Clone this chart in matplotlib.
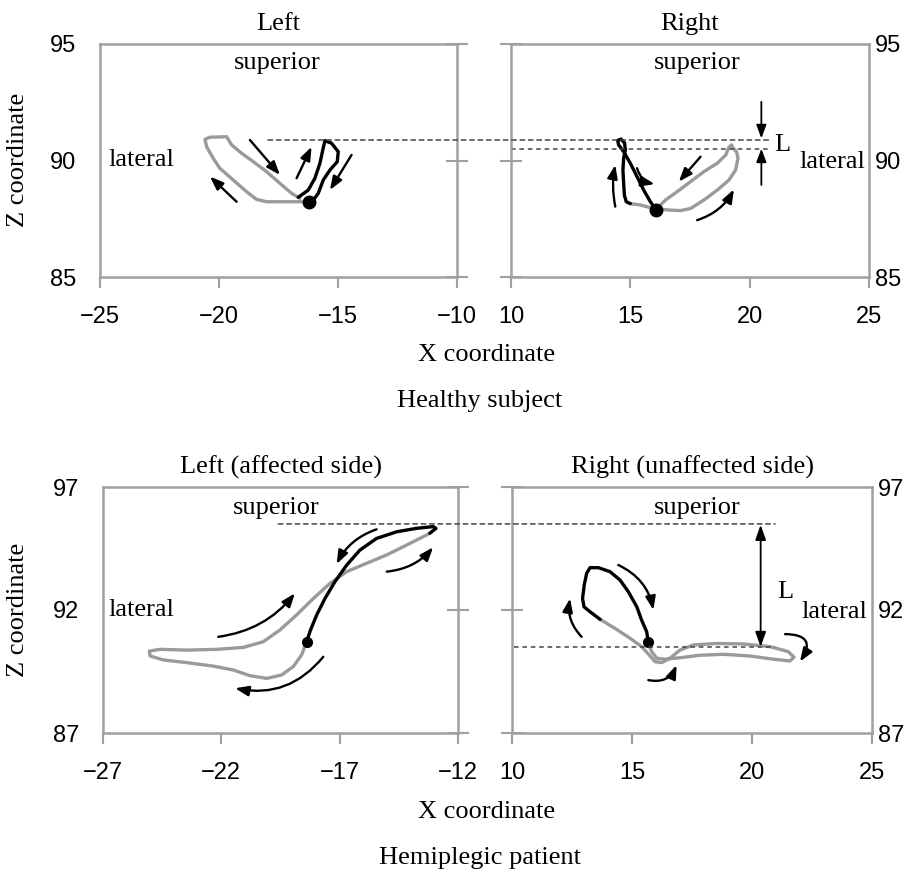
import numpy as np
import matplotlib
matplotlib.use("Agg")
import matplotlib.pyplot as plt
from matplotlib.patches import ConnectionPatch

SERIF = ["Liberation Serif", "DejaVu Serif"]
NARROW = ["Liberation Sans Narrow", "Liberation Sans", "DejaVu Sans"]
GRAY = "#9a9a9a"
SPINE = "#a0a0a0"
FS = 19
TS = 17

# ---- healthy subject, left side ----
hl_gray_x = [-16.53, -18.00, -18.42, -18.84, -19.40, -19.96, -20.24, -20.52, -20.59, -20.38,
             -19.68, -19.47, -19.05, -18.56, -18.00, -17.44, -16.95, -16.60]
hl_gray_z = [88.23, 88.23, 88.33, 88.66, 89.16, 89.66, 90.09, 90.59, 90.91, 91.00,
             91.02, 90.67, 90.31, 89.95, 89.52, 89.02, 88.59, 88.38]
hl_black_x = [-16.67, -16.25, -15.97, -15.76, -15.64, -15.55, -15.27, -14.99, -15.03,
              -15.34, -15.62, -15.83, -16.04, -16.23]
hl_black_z = [88.42, 88.73, 89.24, 89.88, 90.45, 90.85, 90.74, 90.38, 89.95,
              89.59, 89.16, 88.59, 88.30, 88.23]
hl_start = (-16.21, 88.21)

# ---- healthy subject, right side ----
hr_black_x = [16.08, 15.84, 15.56, 15.28, 15.00, 14.72, 14.51, 14.47, 14.61, 14.76, 14.79,
              14.72, 14.69, 14.72, 14.75, 14.83, 15.00]
hr_black_z = [87.88, 88.23, 88.73, 89.31, 89.88, 90.38, 90.67, 90.86, 90.92, 90.75, 90.46,
              90.10, 89.59, 89.02, 88.51, 88.23, 88.15]
hr_gray_x = [15.00, 15.42, 15.98, 16.54, 17.10, 17.52, 18.08, 18.64, 19.13, 19.41, 19.51,
             19.45, 19.31, 19.24, 19.13, 19.00, 18.64, 18.08, 17.52, 16.96, 16.47, 16.12]
hr_gray_z = [88.15, 88.09, 87.94, 87.88, 87.85, 87.94, 88.30, 88.73, 89.16, 89.59, 90.10,
             90.38, 90.53, 90.67, 90.57, 90.24, 89.88, 89.52, 89.09, 88.66, 88.30, 87.94]
hr_start = (16.08, 87.88)

# ---- hemiplegic patient, left (affected) side ----
pl_gray_x = [-18.40, -18.61, -18.96, -19.45, -20.08, -20.79, -21.49, -22.34, -23.46, -24.45,
             -25.01, -25.04, -24.59, -23.46, -22.20, -21.07, -20.23, -19.52, -18.82, -18.11,
             -17.41, -16.70, -15.86, -15.01, -14.17, -13.47, -13.19]
pl_gray_z = [90.71, 90.17, 89.70, 89.36, 89.22, 89.33, 89.56, 89.72, 89.86, 89.97,
             90.13, 90.33, 90.40, 90.37, 90.40, 90.48, 90.71, 91.19, 91.80, 92.47,
             93.08, 93.56, 93.90, 94.24, 94.64, 94.98, 95.12]
pl_black_x = [-18.40, -18.23, -17.97, -17.62, -17.20, -16.70, -16.14, -15.44, -14.59,
              -13.75, -13.05, -12.93, -13.19]
pl_black_z = [90.71, 91.19, 91.80, 92.47, 93.15, 93.83, 94.44, 94.91, 95.18,
              95.32, 95.39, 95.32, 95.12]
pl_start = (-18.40, 90.71)

# ---- hemiplegic patient, right (unaffected) side ----
pr_black_x = [15.68, 15.61, 15.40, 15.20, 14.85, 14.50, 14.08, 13.60, 13.25, 13.11, 13.01,
              12.94, 13.00, 13.25, 13.67]
pr_black_z = [90.71, 91.12, 91.59, 92.13, 92.74, 93.22, 93.56, 93.72, 93.72, 93.49, 93.02,
              92.47, 92.13, 91.93, 91.62]
pr_gray_x = [13.67, 14.36, 14.92, 15.40, 15.72, 15.96, 16.24, 16.58, 17.00, 17.56, 18.53,
             19.64, 20.75, 21.51, 21.75, 21.58, 20.89, 19.92, 18.80, 17.83, 17.00, 16.38,
             16.03, 15.82, 15.70, 15.68]
pr_gray_z = [91.62, 91.21, 90.85, 90.51, 90.17, 89.90, 89.86, 90.04, 90.37, 90.58, 90.64,
             90.62, 90.51, 90.31, 90.08, 89.93, 90.00, 90.13, 90.20, 90.16, 90.06, 90.00,
             90.04, 90.31, 90.58, 90.71]
pr_start = (15.68, 90.71)

# axis settings: (xlim, xticks, ylim, yticks, title)
panels = [
    ((-25, -10), [-25, -20, -15, -10], (85, 95), [85, 90, 95], "Left"),
    ((10, 25), [10, 15, 20, 25], (85, 95), [85, 90, 95], "Right"),
    ((-27, -12), [-27, -22, -17, -12], (87, 97), [87, 92, 97], "Left (affected side)"),
    ((10, 25), [10, 15, 20, 25], (87, 97), [87, 92, 97], "Right (unaffected side)"),
]

# direction arrows: (tail_x, tail_z, head_x, head_z, rad)
arrows = [
    [(-18.70, 90.88, -17.44, 89.38, 0.0), (-16.74, 89.24, -16.11, 90.59, 0.0),
     (-14.43, 90.24, -15.34, 88.73, 0.0), (-19.26, 88.23, -20.38, 89.31, 0.0)],
    [(14.37, 88.02, 14.37, 89.81, -0.1), (15.28, 89.67, 16.02, 88.99, 0.3),
     (17.94, 90.16, 17.03, 89.09, 0.0), (17.80, 87.44, 19.34, 88.76, 0.2)],
    [(-15.44, 95.28, -17.13, 93.87, 0.2), (-15.01, 93.56, -13.05, 94.55, 0.2),
     (-22.13, 90.91, -18.89, 92.68, 0.2), (-17.69, 90.10, -21.42, 88.82, -0.3)],
    [(12.90, 90.91, 12.42, 92.47, -0.25), (14.43, 93.83, 15.89, 92.00, -0.25),
     (15.68, 89.15, 16.86, 89.76, 0.4), (21.38, 91.02, 22.00, 89.90, -0.9)],
]

# labels inside panels: (x, z, text, ha)
labels = [
    [(-17.57, 94.17, "superior", "center"), (-24.65, 90.02, "lateral", "left")],
    [(17.80, 94.17, "superior", "center"), (21.02, 90.67, "L", "left"),
     (22.10, 89.95, "lateral", "left")],
    [(-19.66, 96.13, "superior", "center"), (-26.79, 92.0, "lateral", "left")],
    [(17.70, 96.13, "superior", "center"), (21.03, 92.74, "L", "left"),
     (22.05, 91.93, "lateral", "left")],
]

fig = plt.figure(figsize=(9.21, 8.75), dpi=100)
W, H = 921, 875
rects = [(100, 44, 457, 277), (511, 44, 869, 277), (103, 487, 458, 733), (512, 487, 872, 733)]
head = "-|>,head_length=0.8,head_width=0.3"
axes = []
for i, (l, t, r, b) in enumerate(rects):
    ax = fig.add_axes([l / W, 1 - b / H, (r - l) / W, (b - t) / H])
    xlim, xt, ylim, yt, title = panels[i]
    ax.set_xlim(*xlim)
    ax.set_ylim(*ylim)
    ax.set_xticks(xt)
    ax.set_yticks(yt)
    ax.set_xticklabels([str(v).replace("-", "\u2212") for v in xt])
    for s in ax.spines.values():
        s.set_color(SPINE)
        s.set_linewidth(1.8)
    ax.tick_params(axis="x", direction="out", length=8, width=1.5, color=SPINE,
                   pad=13, labelsize=TS)
    if i % 2 == 0:
        ax.tick_params(axis="y", left=False, right=True, labelleft=True, labelright=False,
                       direction="inout", length=16, width=1.5, color=SPINE, pad=9,
                       labelsize=TS)
    else:
        ax.tick_params(axis="y", left=True, right=False, labelleft=False, labelright=True,
                       direction="inout", length=16, width=1.5, color=SPINE, pad=-4,
                       labelsize=TS)
    for lab in ax.get_xticklabels() + ax.get_yticklabels():
        lab.set_family(NARROW)
    ax.set_title(title, fontsize=FS, family=SERIF, pad=10)
    for (x, z, txt, ha) in labels[i]:
        ax.text(x, z, txt, ha=ha, va="center", fontsize=FS, family=SERIF)
    for (x0, z0, x1, z1, rad) in arrows[i]:
        ax.annotate("", xy=(x1, z1), xytext=(x0, z0),
                    arrowprops=dict(arrowstyle=head, lw=1.7, color="black",
                                    shrinkA=0, shrinkB=0,
                                    connectionstyle=f"arc3,rad={rad}"))
    axes.append(ax)

ax1, ax2, ax3, ax4 = axes

ax1.plot(hl_gray_x, hl_gray_z, color=GRAY, lw=2.4, solid_capstyle="round")
ax1.plot(hl_black_x, hl_black_z, color="black", lw=2.4, solid_capstyle="round")
ax1.plot(*hl_start, "o", color="black", ms=9)

ax2.plot(hr_gray_x, hr_gray_z, color=GRAY, lw=2.4, solid_capstyle="round")
ax2.plot(hr_black_x, hr_black_z, color="black", lw=2.4, solid_capstyle="round")
ax2.plot(*hr_start, "o", color="black", ms=9)

ax3.plot(pl_gray_x, pl_gray_z, color=GRAY, lw=2.4, solid_capstyle="round")
ax3.plot(pl_black_x, pl_black_z, color="black", lw=2.4, solid_capstyle="round")
ax3.plot(*pl_start, "o", color="black", ms=7)

ax4.plot(pr_gray_x, pr_gray_z, color=GRAY, lw=2.4, solid_capstyle="round")
ax4.plot(pr_black_x, pr_black_z, color="black", lw=2.4, solid_capstyle="round")
ax4.plot(*pr_start, "o", color="black", ms=7)

# dashed reference levels (max height of each side) and L markers
dash = dict(linestyle=(0, (3, 2.5)), color="#444444", lw=1.1)
fig.add_artist(ConnectionPatch((-17.94, 90.88), (20.88, 90.88), "data", "data",
                               axesA=ax1, axesB=ax2, **dash))
ax2.plot([10, 20.88], [90.49, 90.49], clip_on=False, **dash)
fig.add_artist(ConnectionPatch((-19.59, 95.50), (20.96, 95.50), "data", "data",
                               axesA=ax3, axesB=ax4, **dash))
ax4.plot([10.1, 20.96], [90.48, 90.48], **dash)

ax2.annotate("", xy=(20.49, 90.95), xytext=(20.49, 92.52),
             arrowprops=dict(arrowstyle=head, lw=1.3, color="black", shrinkA=0, shrinkB=0))
ax2.annotate("", xy=(20.49, 90.51), xytext=(20.49, 88.95),
             arrowprops=dict(arrowstyle=head, lw=1.3, color="black", shrinkA=0, shrinkB=0))
ax4.annotate("", xy=(20.36, 90.50), xytext=(20.36, 95.46),
             arrowprops=dict(arrowstyle="<|-|>,head_length=0.9,head_width=0.32", lw=1.3,
                             color="black", shrinkA=0, shrinkB=0))

# shared labels
fig.text(487 / W, 1 - 355 / H, "X coordinate", ha="center", va="center", fontsize=FS, family=SERIF)
fig.text(480 / W, 1 - 401 / H, "Healthy subject", ha="center", va="center", fontsize=FS, family=SERIF)
fig.text(487 / W, 1 - 812 / H, "X coordinate", ha="center", va="center", fontsize=FS, family=SERIF)
fig.text(480 / W, 1 - 858 / H, "Hemiplegic patient", ha="center", va="center", fontsize=FS, family=SERIF)
fig.text(18 / W, 1 - 160 / H, "Z coordinate", ha="center", va="center", rotation=90,
         fontsize=FS, family=SERIF)
fig.text(18 / W, 1 - 610 / H, "Z coordinate", ha="center", va="center", rotation=90,
         fontsize=FS, family=SERIF)

fig.savefig("out.png", dpi=100)
